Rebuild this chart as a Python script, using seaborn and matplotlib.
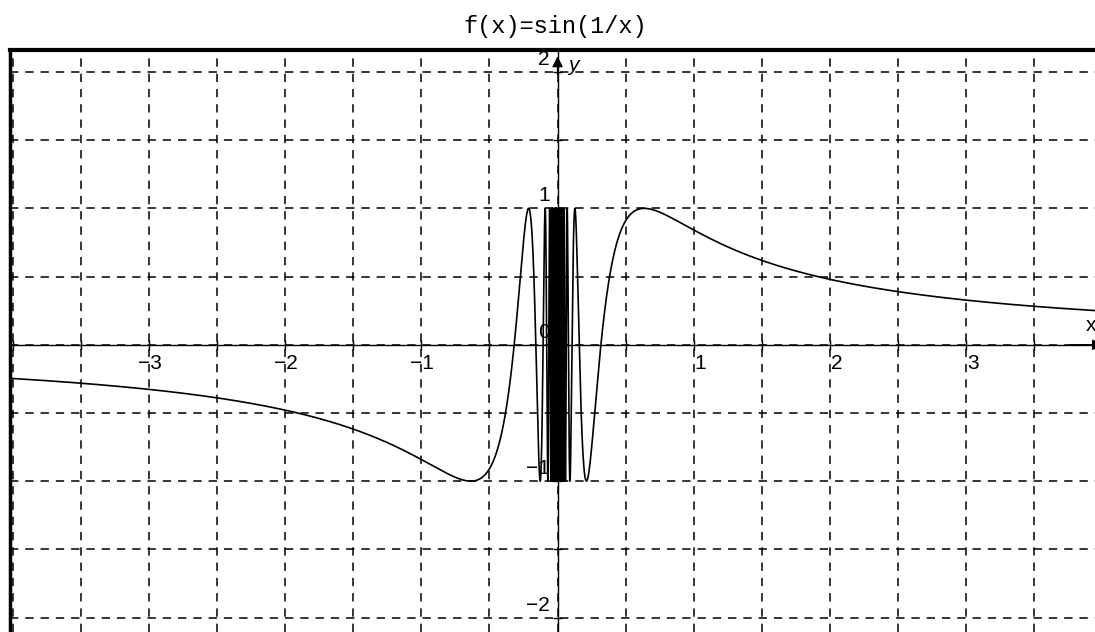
import numpy as np
import matplotlib
matplotlib.use("Agg")
import matplotlib.pyplot as plt
import seaborn as sns

# chart data
title = "f(x)=sin(1/x)"
x_limits = (-4.02, 3.946)
y_limits = (-2.106, 2.161)
n_samples = 120000
x_tick_labels = [-3, -2, -1, 1, 2, 3]
y_tick_labels = [-2, -1, 0, 1, 2]
grid_x = np.arange(-4.0, 4.01, 0.5)
grid_y = np.arange(-2.0, 2.01, 0.5)

# curve samples (the function named in the title)
x = np.linspace(x_limits[0], x_limits[1], n_samples)
x = x[x != 0]
y = np.sin(1.0 / x)

sns.set_style("white")
plt.rcParams["lines.scale_dashes"] = False

fig = plt.figure(figsize=(10.95, 6.32), dpi=100)
ax = fig.add_axes([10 / 1095, 0, 1085 / 1095, 582 / 632])

# dashed grid
ax.set_xticks(grid_x)
ax.set_yticks(grid_y)
ax.grid(True, color="black", linestyle=(0, (6, 5)), linewidth=1.1)
ax.tick_params(length=0, labelbottom=False, labelleft=False)
ax.set_xlim(x_limits)
ax.set_ylim(y_limits)

for side in ["right", "bottom"]:
    ax.spines[side].set_visible(False)
ax.spines["top"].set_linewidth(3)
ax.spines["left"].set_linewidth(2.5)
ax.spines["top"].set_color("black")
ax.spines["left"].set_color("black")

# coordinate axes
ax.axhline(0, color="black", lw=1.0, zorder=2)
ax.axvline(0, color="black", lw=1.0, zorder=2)
ax.vlines(grid_x, -0.035, 0.035, color="black", lw=1.0, zorder=2)
ax.hlines(grid_y, -0.035, 0.035, color="black", lw=1.0, zorder=2)
ax.annotate("", xy=(0, y_limits[1] - 0.025), xytext=(0, y_limits[1] - 0.2),
            arrowprops=dict(arrowstyle="-|>", color="black", lw=1.0, mutation_scale=16),
            annotation_clip=False, zorder=3)
ax.annotate("", xy=(x_limits[1] + 0.08, 0), xytext=(x_limits[1] - 0.2, 0),
            arrowprops=dict(arrowstyle="-|>", color="black", lw=1.0, mutation_scale=16),
            annotation_clip=False, zorder=3)

label_font = dict(family=["Liberation Sans", "DejaVu Sans"], fontsize=15, color="black")
for t in x_tick_labels:
    ax.annotate(str(t).replace("-", "\u2212"), xy=(t, 0), xytext=(9, -7),
                textcoords="offset points", ha="right", va="top", zorder=1, **label_font)
for t in y_tick_labels:
    ax.annotate(str(t).replace("-", "\u2212"), xy=(0, t), xytext=(-5.5, 5),
                textcoords="offset points", ha="right", va="baseline", zorder=1, **label_font)

ax.annotate("x", xy=(x_limits[1], 0), xytext=(-7, 10), textcoords="offset points",
            ha="left", va="baseline", annotation_clip=False, **label_font)
ax.annotate("y", xy=(0, y_limits[1]), xytext=(8, -15), textcoords="offset points",
            ha="left", va="baseline", style="italic", **label_font)

# the curve
sns.lineplot(x=x, y=y, ax=ax, color="black", linewidth=1.2, sort=False,
             estimator=None, zorder=4)

fig.text(555 / 1095, 1 - 27 / 632, title, ha="center", va="center",
         family=["Liberation Mono", "DejaVu Sans Mono"], fontsize=17, color="black")

fig.savefig("out.png", dpi=100)
